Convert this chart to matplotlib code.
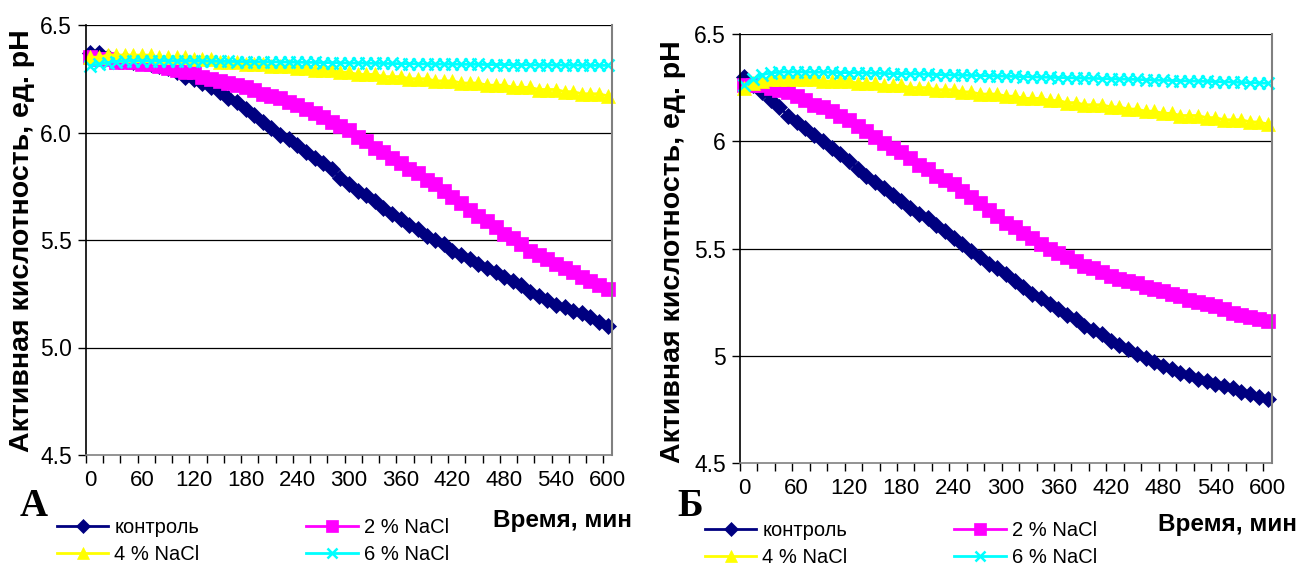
import numpy as np
import matplotlib
matplotlib.use("Agg")
import matplotlib.pyplot as plt

plt.rcParams['font.family'] = ['Liberation Sans', 'DejaVu Sans']

# time, min (one reading every 10 min)
t = list(range(0, 601, 10))

# panel A
a_ctrl = [6.37, 6.37, 6.35, 6.34, 6.34, 6.33, 6.33, 6.32, 6.31, 6.30,
          6.28, 6.26, 6.25, 6.23, 6.21, 6.19, 6.16, 6.14, 6.11, 6.08,
          6.05, 6.02, 5.99, 5.97, 5.94, 5.91, 5.88, 5.86, 5.83, 5.79,
          5.76, 5.73, 5.71, 5.68, 5.65, 5.62, 5.60, 5.57, 5.55, 5.52,
          5.50, 5.48, 5.45, 5.43, 5.41, 5.39, 5.37, 5.35, 5.33, 5.31,
          5.29, 5.26, 5.24, 5.22, 5.20, 5.19, 5.17, 5.16, 5.14, 5.12, 5.10]
a_nacl2 = [6.35, 6.34, 6.34, 6.33, 6.33, 6.33, 6.32, 6.32, 6.31, 6.30,
           6.29, 6.28, 6.28, 6.26, 6.25, 6.24, 6.23, 6.22, 6.21, 6.20,
           6.18, 6.17, 6.16, 6.14, 6.13, 6.11, 6.09, 6.07, 6.05, 6.03,
           6.01, 5.98, 5.96, 5.93, 5.91, 5.88, 5.86, 5.83, 5.81, 5.78,
           5.76, 5.73, 5.70, 5.67, 5.64, 5.61, 5.59, 5.56, 5.53, 5.51,
           5.48, 5.45, 5.43, 5.41, 5.39, 5.37, 5.35, 5.33, 5.31, 5.29, 5.27]
a_nacl4 = [6.35, 6.35, 6.36, 6.36, 6.36, 6.36, 6.36, 6.36, 6.35, 6.35,
           6.35, 6.35, 6.34, 6.34, 6.34, 6.33, 6.33, 6.33, 6.32, 6.32,
           6.32, 6.31, 6.31, 6.31, 6.30, 6.30, 6.29, 6.29, 6.29, 6.28,
           6.28, 6.27, 6.27, 6.27, 6.26, 6.26, 6.26, 6.25, 6.25, 6.25,
           6.24, 6.24, 6.24, 6.23, 6.23, 6.23, 6.22, 6.22, 6.22, 6.21,
           6.21, 6.21, 6.20, 6.20, 6.20, 6.19, 6.19, 6.18, 6.18, 6.18, 6.17]
a_nacl6 = [6.310, 6.318, 6.325, 6.330, 6.332, 6.334, 6.334, 6.334, 6.334, 6.334,
           6.333, 6.333, 6.333, 6.332, 6.332, 6.331, 6.331, 6.330, 6.330, 6.329,
           6.329, 6.328, 6.328, 6.327, 6.327, 6.326, 6.326, 6.325, 6.325, 6.324,
           6.323, 6.323, 6.322, 6.322, 6.321, 6.321, 6.320, 6.320, 6.319, 6.319,
           6.318, 6.318, 6.318, 6.317, 6.317, 6.317, 6.316, 6.316, 6.316, 6.315,
           6.315, 6.315, 6.314, 6.314, 6.314, 6.313, 6.313, 6.313, 6.312, 6.312, 6.312]

# panel Б
b_ctrl = [6.30, 6.26, 6.23, 6.19, 6.16, 6.12, 6.09, 6.06, 6.03, 6.00,
          5.97, 5.94, 5.91, 5.87, 5.84, 5.81, 5.78, 5.75, 5.72, 5.69,
          5.66, 5.64, 5.61, 5.58, 5.55, 5.52, 5.49, 5.46, 5.43, 5.41,
          5.38, 5.35, 5.32, 5.29, 5.27, 5.24, 5.22, 5.19, 5.17, 5.14,
          5.12, 5.10, 5.07, 5.05, 5.03, 5.01, 4.99, 4.97, 4.95, 4.94,
          4.92, 4.91, 4.89, 4.88, 4.87, 4.86, 4.85, 4.83, 4.82, 4.81, 4.80]
b_nacl2 = [6.26, 6.26, 6.26, 6.25, 6.24, 6.23, 6.21, 6.19, 6.17, 6.16,
           6.14, 6.12, 6.10, 6.07, 6.05, 6.02, 5.99, 5.97, 5.95, 5.92,
           5.89, 5.87, 5.84, 5.82, 5.80, 5.77, 5.74, 5.71, 5.68, 5.65,
           5.62, 5.60, 5.57, 5.55, 5.52, 5.50, 5.48, 5.46, 5.44, 5.42,
           5.41, 5.39, 5.37, 5.36, 5.35, 5.34, 5.32, 5.31, 5.30, 5.29,
           5.28, 5.26, 5.25, 5.24, 5.23, 5.22, 5.20, 5.19, 5.18, 5.17, 5.16]
b_nacl4 = [6.25, 6.27, 6.28, 6.29, 6.29, 6.29, 6.29, 6.29, 6.29, 6.28,
           6.28, 6.28, 6.28, 6.27, 6.27, 6.27, 6.26, 6.26, 6.26, 6.25,
           6.25, 6.25, 6.24, 6.24, 6.24, 6.23, 6.23, 6.22, 6.22, 6.22,
           6.21, 6.21, 6.20, 6.20, 6.20, 6.19, 6.19, 6.18, 6.18, 6.17,
           6.17, 6.17, 6.16, 6.16, 6.15, 6.15, 6.14, 6.14, 6.13, 6.13,
           6.12, 6.12, 6.12, 6.11, 6.11, 6.10, 6.10, 6.10, 6.09, 6.09, 6.08]
b_nacl6 = [6.260, 6.290, 6.310, 6.318, 6.322, 6.323, 6.323, 6.323, 6.322, 6.322,
           6.321, 6.320, 6.320, 6.319, 6.318, 6.317, 6.316, 6.315, 6.315, 6.314,
           6.313, 6.312, 6.311, 6.310, 6.309, 6.308, 6.307, 6.306, 6.305, 6.304,
           6.303, 6.302, 6.301, 6.300, 6.299, 6.298, 6.297, 6.296, 6.295, 6.294,
           6.293, 6.292, 6.291, 6.290, 6.289, 6.288, 6.287, 6.285, 6.284, 6.283,
           6.282, 6.281, 6.280, 6.279, 6.278, 6.277, 6.276, 6.274, 6.273, 6.272, 6.270]

names = ['контроль', '2 % NaCl', '4 % NaCl', '6 % NaCl']
colors = ['#000080', '#FF00FF', '#FFFF00', '#00FFFF']
markers = ['D', 's', '^', 'x']
msizes = [8.5, 10.5, 10.5, 8]

ytick_vals = [4.5, 5.0, 5.5, 6.0, 6.5]
ytick_a = ['4.5', '5.0', '5.5', '6.0', '6.5']
ytick_b = ['4.5', '5', '5.5', '6', '6.5']
xlab_vals = list(range(0, 601, 60))

W, H = 1298, 570
fig = plt.figure(figsize=(W / 100, H / 100), dpi=100)


def px_axes(x0, y0, x1, y1):
    # pixel box (top-left origin) -> figure fraction
    return fig.add_axes([x0 / W, 1 - y1 / H, (x1 - x0) / W, (y1 - y0) / H])


def panel(ax, series, ylabels):
    lines = []
    for vals, c, m, ms in zip(series, colors, markers, msizes):
        ln, = ax.plot(t, vals, color=c, lw=2, marker=m, ms=ms,
                      mew=1.8 if m == 'x' else 0.5, mec=c, mfc=c, clip_on=False)
        lines.append(ln)
    ax.set_xlim(-5, 605)
    ax.set_ylim(4.5, 6.5)
    ax.set_yticks(ytick_vals)
    ax.set_yticklabels(ylabels, fontsize=16.5)
    ax.tick_params(axis='y', direction='out', length=6, width=1, pad=4)
    # boundaries of every second category get a tick mark
    ax.set_xticks(np.arange(-5, 600, 20))
    ax.set_xticklabels([])
    ax.tick_params(axis='x', which='major', direction='out', length=6, width=1)
    ax.set_xticks(xlab_vals, minor=True)
    ax.set_xticklabels([str(v) for v in xlab_vals], minor=True, fontsize=16)
    ax.tick_params(axis='x', which='minor', length=0, pad=11)
    for y in [5.0, 5.5, 6.0, 6.5]:
        ax.axhline(y, color='black', lw=0.9, zorder=0)
    ax.spines['top'].set_visible(False)
    ax.spines['right'].set_color('#808080')
    ax.spines['right'].set_linewidth(1.5)
    ax.spines['left'].set_linewidth(1.2)
    ax.spines['bottom'].set_linewidth(1.2)
    ax.spines['bottom'].set_color('#808080')
    return lines


ax_a = px_axes(86, 25, 612, 455)
lines_a = panel(ax_a, [a_ctrl, a_nacl2, a_nacl4, a_nacl6], ytick_a)
ax_b = px_axes(740, 34, 1272, 463)
lines_b = panel(ax_b, [b_ctrl, b_nacl2, b_nacl4, b_nacl6], ytick_b)

ylab = 'Активная кислотность, ед. pH'
fig.text(22 / W, 1 - 241 / H, ylab, rotation=90, ha='center', va='center',
         fontsize=20.5, fontweight='bold')
fig.text(673 / W, 1 - 252 / H, ylab, rotation=90, ha='center', va='center',
         fontsize=20.5, fontweight='bold')

fig.text(632 / W, 1 - 520 / H, 'Время, мин', ha='right', va='center',
         fontsize=17.5, fontweight='bold')
fig.text(1297 / W, 1 - 525 / H, 'Время, мин', ha='right', va='center',
         fontsize=17.5, fontweight='bold')

fig.text(34 / W, 1 - 507 / H, 'А', ha='center', va='center', fontsize=28,
         fontweight='bold', family='Liberation Serif')
fig.text(690 / W, 1 - 507 / H, 'Б', ha='center', va='center', fontsize=28,
         fontweight='bold', family='Liberation Serif')

order = [0, 2, 1, 3]
for lines, x0, y0 in [(lines_a, 57, 518), (lines_b, 705, 521)]:
    fig.legend([lines[i] for i in order], [names[i] for i in order],
               loc='upper left', bbox_to_anchor=(x0 / W, 1 - y0 / H),
               ncol=2, frameon=False, fontsize=14.5, handlelength=2.55,
               numpoints=1, columnspacing=5.3, labelspacing=0.42,
               handletextpad=0.3, borderpad=0, borderaxespad=0,
               markerscale=0.85)

fig.savefig('out.png', dpi=100)
